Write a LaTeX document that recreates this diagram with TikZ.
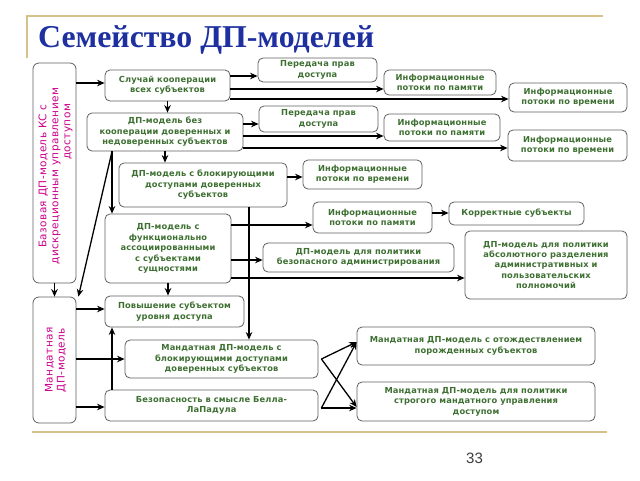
\documentclass[tikz,border=0pt]{standalone}
\usepackage{fontspec}
\setmainfont{DejaVu Sans}
\newfontfamily\titlefont{Liberation Serif}
\newfontfamily\numfont{Liberation Sans}
\newfontfamily\bxf{DejaVu Sans}[LetterSpace=1.5]
\newfontfamily\lbf{DejaVu Sans}[LetterSpace=4]
\usetikzlibrary{arrows.meta}
\definecolor{tgreen}{RGB}{62,112,50}
\definecolor{tmag}{RGB}{204,0,140}
\definecolor{tblue}{RGB}{30,48,160}
\definecolor{bgray}{RGB}{95,95,95}
\definecolor{tan}{RGB}{214,194,136}
\definecolor{pgray}{RGB}{60,60,60}
\tikzset{
  bx/.style={draw=bgray, line width=0.8pt, rounded corners=5pt, fill=white,
    text=tgreen, align=center, inner sep=1pt,
    font=\bxf\bfseries\fontsize{8.3}{10.4}\selectfont},
  sz/.style 2 args={minimum width=#1pt, minimum height=#2pt},
  lbx/.style={draw=bgray, line width=0.8pt, rounded corners=6pt, fill=white},
  ltext/.style={rotate=90, text=tmag, align=center, inner sep=0pt,
    font=\lbf\fontsize{10.5}{12}\selectfont},
  arr/.style={draw=black, line width=1.3pt, -{Stealth[length=7.5pt,width=6.5pt]}},
  deco/.style={draw=tan, line width=1.2pt}
}
\begin{document}
\begin{tikzpicture}[x=1pt,y=-1pt]
\useasboundingbox (0,0) rectangle (640,480);
% decorative lines
\coordinate (tl) at (27,58);
\coordinate (tc) at (27,16);
\coordinate (tr) at (603,16);
\draw[deco] (tl) -- (tc) -- (tr);
\coordinate (bl) at (32,432);
\coordinate (br) at (607,432);
\draw[deco] (bl) -- (br);
% title and page number
\node[anchor=base west, inner sep=0pt, text=tblue,
  font=\titlefont\bfseries\fontsize{31.8}{33}\selectfont] (title) at (38,47) {Семейство ДП-моделей};
\node[anchor=base, inner sep=0pt, text=pgray,
  font=\numfont\fontsize{15}{17}\selectfont] (pnum) at (474.5,463) {33};
% left boxes
\node[lbx, sz={43}{220}] (base) at (54.5,173) {};
\node[ltext] (baset) at ([xshift=1pt,yshift=-3pt]base.center) {Базовая ДП-модель КС с\\дискреционным управлением\\\hspace*{88pt}доступом};
\node[lbx, sz={43}{126}] (mand) at (54.5,360) {};
\node[ltext] (mandt) at ([xshift=1pt]mand.center) {Мандатная\\ДП-модель};
% main column
\node[bx, sz={125}{31}] (b1) at (167.5,85.5) {Случай кооперации\\всех субъектов};
\node[bx, sz={156}{38}] (b2) at (165,132) {ДП-модель без\\кооперации доверенных и\\недоверенных субъектов};
\node[bx, sz={168}{44}] (b3) at (203,185) {ДП-модель с блокирующими\\доступами доверенных\\субъектов};
\node[bx, sz={126}{69}] (b4) at (168,248.5) {ДП-модель с\\функционально\\ассоциированными\\с субъектами\\сущностями};
\node[bx, sz={139}{31}] (b5) at (174.5,311.5) {Повышение субъектом\\уровня доступа};
\node[bx, sz={193}{38}] (b6) at (221.5,359) {Мандатная ДП-модель с\\блокирующими доступами\\доверенных субъектов};
\node[bx, sz={213}{31}] (b7) at (211.5,405.5) {Безопасность в смысле Белла-\\ЛаПадула};
% right boxes
\node[bx, sz={119}{24}] (p1) at (317.5,70) {Передача прав\\доступа};
\node[bx, sz={112}{25}] (im1) at (440,82.5) {Информационные\\потоки по памяти};
\node[bx, sz={118}{29}] (it1) at (568,97.5) {Информационные\\потоки по времени};
\node[bx, sz={119}{26}] (p2) at (318.5,119) {Передача прав\\доступа};
\node[bx, sz={116}{27}] (im2) at (442,127.5) {Информационные\\потоки по памяти};
\node[bx, sz={119}{31}] (it2) at (567.5,145.5) {Информационные\\потоки по времени};
\node[bx, sz={119}{29}] (it3) at (362.5,174.5) {Информационные\\потоки по времени};
\node[bx, sz={119}{31}] (im3) at (372.5,217.5) {Информационные\\потоки по памяти};
\node[bx, sz={135}{23}] (kor) at (516.5,213.5) {Корректные субъекты};
\node[bx, sz={191}{29}] (adm) at (358.5,257.5) {ДП-модель для политики\\безопасного администрирования};
\node[bx, sz={162}{68}] (abs) at (546,265) {ДП-модель для политики\\абсолютного разделения\\административных и\\пользовательских\\полномочий};
\node[bx, sz={238}{38}] (m1) at (476,346) {Мандатная ДП-модель с отождествлением\\порожденных субъектов};
\node[bx, sz={238}{39}] (m2) at (476,401.5) {Мандатная ДП-модель для политики\\строгого мандатного управления\\доступом};
% connectors
\draw[arr] (base.east |- 0,83) -- (b1.west |- 0,83);
\draw[arr] (base.south) -- (mand.north);
\draw[arr] (b1.south) -- (b1.south |- b2.north);
\draw[arr] (b1.east |- 0,76) -- (p1.west |- 0,76);
\draw[arr] (b1.east |- 0,89) -- (im1.west |- 0,89);
\draw[arr] (b1.east |- 0,99) -- (it1.west |- 0,99);
\draw[arr] (b2.east |- 0,124) -- (p2.west |- 0,124);
\draw[arr] (b2.east |- 0,136) -- (im2.west |- 0,136);
\draw[arr] (b2.east |- 0,148) -- (it2.west |- 0,148);
\draw[arr] (b2.south) -- (b2.south |- b3.north);
\draw[arr] (b2.south -| 112,0) -- (b4.north -| 112,0);
\draw[arr] (b2.south -| 112,0) -- ([xshift=2pt]mand.north east);
\draw[arr] (b3.east |- 0,177) -- (it3.west |- 0,177);
\draw[arr] (b3.south -| 249,0) -- (b6.north -| 249,0);
\draw[arr] (b4.east |- 0,225) -- (im3.west |- 0,225);
\draw[arr] (b4.east |- 0,260) -- (adm.west |- 0,260);
\draw[arr] (b4.east |- 0,278) -- (abs.west |- 0,278);
\draw[arr] (im3.east |- 0,213) -- (kor.west |- 0,213);
\draw[arr] (b4.south) -- (b4.south |- b5.north);
\draw[arr] (mand.east |- 0,309) -- (b5.west |- 0,309);
\draw[arr] (mand.east |- 0,359) -- (b6.west |- 0,359);
\draw[arr] (mand.east |- 0,407) -- (b7.west |- 0,407);
\draw[arr] (b7.north -| 112,0) -- (b5.south -| 112,0);
\draw[arr] ([xshift=3pt]b6.east) -- (m1.west |- 0,342);
\draw[arr] ([xshift=3pt]b6.east) -- (m2.west |- 0,407);
\draw[arr] ([xshift=3pt]b7.east |- 0,408) -- (m1.west |- 0,342);
\draw[arr] ([xshift=3pt]b7.east |- 0,408) -- (m2.west |- 0,408);
\end{tikzpicture}
\end{document}
